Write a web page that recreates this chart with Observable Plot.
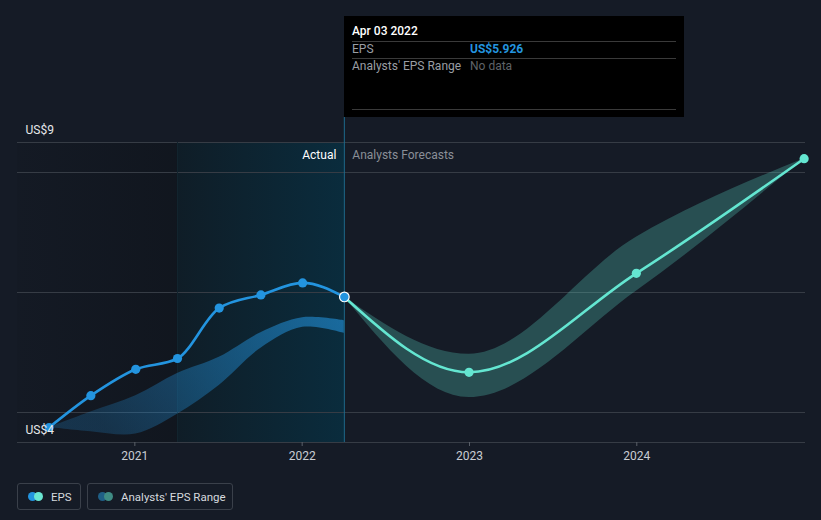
<!DOCTYPE html>
<html><head><meta charset="utf-8">
<script src="https://cdn.jsdelivr.net/npm/d3@7"></script>
<script src="https://cdn.jsdelivr.net/npm/@observablehq/plot@0.6"></script>
<style>
html,body{margin:0;padding:0;}
body{background:#151b26;font-family:Roboto,"Noto Sans",sans-serif;width:821px;height:520px;overflow:hidden;position:relative;}
#chart{position:absolute;left:0;top:0;}
#tip{position:absolute;left:344px;top:16px;width:340px;height:101px;background:#000;}
#tip .t{position:absolute;font-size:12px;line-height:14px;white-space:nowrap;}
#tip .sep{position:absolute;left:8px;width:324px;height:1px;background:#3a3a3a;}
#legend{position:absolute;left:17px;top:483px;display:flex;gap:6px;}
.lg{height:25px;border:1px solid #3a404a;border-radius:3px;display:flex;align-items:center;font-size:11.5px;color:#d6d9de;box-sizing:content-box;white-space:nowrap;}
.dots{position:relative;width:15px;height:9px;margin-left:10px;margin-right:8px;flex:none;}
.dots span{position:absolute;top:0;width:9px;height:9px;border-radius:50%;}
</style></head>
<body>
<div id="chart"></div>
<div id="tip">
  <div class="t" style="left:8px;top:8px;color:#fff;font-weight:500;">Apr 03 2022</div>
  <div class="sep" style="top:25px"></div>
  <div class="t" style="left:8px;top:26px;color:#9a9ea4;">EPS</div>
  <div class="t" style="left:126px;top:26px;color:#2394df;font-weight:700;">US$5.926</div>
  <div class="sep" style="top:42px"></div>
  <div class="t" style="left:8px;top:43px;color:#9a9ea4;">Analysts' EPS Range</div>
  <div class="t" style="left:126px;top:43px;color:#5f6368;">No data</div>
  <div class="sep" style="top:93px"></div>
</div>
<div id="legend">
  <div class="lg" style="width:62px"><div class="dots"><span style="left:0;background:#2394df"></span><span style="left:6px;background:#6ae6d2"></span></div>EPS</div>
  <div class="lg" style="width:144px"><div class="dots"><span style="left:0;background:#1f5f86"></span><span style="left:6px;background:#3f8c84"></span></div>Analysts' EPS Range</div>
</div>
<script>
// ---- data ----
const actualDates = ["2020-06-28","2020-09-27","2021-01-03","2021-04-04","2021-07-04","2021-10-03","2022-01-02","2022-04-03"];
const actualEPS   = [3.75, 4.28, 4.72, 4.90, 5.74, 5.96, 6.16, 5.926];
const actualLow   = [3.75, 3.68, 3.64, 3.97, 4.45, 5.07, 5.42, 5.32];
const actualHigh  = [3.75, 4.01, 4.28, 4.65, 4.92, 5.33, 5.58, 5.53];

const forecastDates = ["2022-04-03","2022-12-31","2023-12-31","2024-12-31"];
const forecastEPS   = [5.926, 4.67, 6.32, 8.23];
const forecastLow   = [5.926, 4.25, 6.02, 8.23];
const forecastHigh  = [5.926, 4.97, 6.92, 8.23];

const xDomain = ["2020-04-20","2025-01-03"];
const yDomain = [3.5, 8.5];
const gridValues = [3.5, 4, 6, 8, 8.5];
const xTicks = ["2021-01-01","2022-01-01","2023-01-01","2024-01-01"];
const yLabels = [{label:"US$9", value:8.7},{label:"US$4", value:3.7}];
const highlightStart = "2021-04-04";
const dividerDate = "2022-04-03";

// ---- build ----
const parse = d3.utcParse("%Y-%m-%d");
const actual = actualDates.map((d,i)=>({date:parse(d), eps:actualEPS[i], low:actualLow[i], high:actualHigh[i]}));
const forecast = forecastDates.map((d,i)=>({date:parse(d), eps:forecastEPS[i], low:forecastLow[i], high:forecastHigh[i]}));
const divider = parse(dividerDate);
const hl = parse(highlightStart);
const x0 = parse(xDomain[0]), x1 = parse(xDomain[1]);

const plot = Plot.plot({
  width: 821, height: 470,
  marginTop: 142, marginBottom: 28, marginLeft: 17, marginRight: 16,
  style: {background: "transparent", color: "#c9cdd3", fontFamily: "Roboto, sans-serif", fontSize: "12px"},
  x: {type: "utc", domain: [x0, x1]},
  y: {domain: yDomain, axis: null},
  marks: [
    Plot.rect([{a:x0, b:hl}], {x1:"a", x2:"b", y1:yDomain[0], y2:yDomain[1], fill:"url(#leftShade)"}),
    Plot.rect([{a:hl, b:divider}], {x1:"a", x2:"b", y1:yDomain[0], y2:yDomain[1], fill:"url(#hlShade)"}),
    Plot.ruleY(gridValues, {stroke:"#363c45", strokeWidth:1}),
    Plot.ruleX([hl], {stroke:"#13262f", strokeWidth:1}),
    Plot.areaY(actual, {x:"date", y1:"low", y2:"high", curve:"catmull-rom", fill:"url(#actBand)"}),
    Plot.areaY(forecast, {x:"date", y1:"low", y2:"high", curve:"monotone-x", fill:"#5fe3cf", fillOpacity:0.26}),
    Plot.ruleX([divider], {stroke:"#1d6a8c", strokeWidth:1, insetTop:-25}),
    Plot.line(actual, {x:"date", y:"eps", stroke:"#2394df", strokeWidth:2.6, curve:"monotone-x"}),
    Plot.line(forecast, {x:"date", y:"eps", stroke:"#64e6d1", strokeWidth:2.6, curve:"monotone-x"}),
    Plot.dot(actual.slice(0,-1), {x:"date", y:"eps", r:4.6, fill:"#2394df"}),
    Plot.dot(forecast.slice(1), {x:"date", y:"eps", r:4.6, fill:"#64e6d1"}),
    Plot.dot(actual.slice(-1), {x:"date", y:"eps", r:4.8, fill:"#2394df", stroke:"#ffffff", strokeWidth:1.2}),
    Plot.axisX(xTicks.map(parse), {tickFormat:d3.utcFormat("%Y"), tickSize:4, stroke:"#5a6069", label:null, fontSize:12}),
    Plot.text(yLabels, {y:"value", text:"label", frameAnchor:"left", dx:8, textAnchor:"start", fill:"#e6e8eb", fontSize:12}),
    Plot.text(["Actual"], {x:divider, frameAnchor:"top", dy:8, dx:-8, textAnchor:"end", fill:"#ffffff", fontSize:12}),
    Plot.text(["Analysts Forecasts"], {x:divider, frameAnchor:"top", dy:8, dx:8, textAnchor:"start", fill:"#8a8f97", fontSize:12})
  ]
});

const svg = d3.select(plot);
const defs = svg.insert("defs", ":first-child");
const g1 = defs.append("linearGradient").attr("id","leftShade").attr("x1","0").attr("x2","1").attr("y1","0").attr("y2","0");
g1.append("stop").attr("offset","0").attr("stop-color","#0e131a").attr("stop-opacity",0.15);
g1.append("stop").attr("offset","1").attr("stop-color","#0e131a").attr("stop-opacity",0.6);
const g2 = defs.append("linearGradient").attr("id","hlShade").attr("x1","0").attr("x2","1").attr("y1","0").attr("y2","0");
g2.append("stop").attr("offset","0").attr("stop-color","#0f1d27");
g2.append("stop").attr("offset","1").attr("stop-color","#0a2c3d");
const g3 = defs.append("linearGradient").attr("id","actBand").attr("x1","0").attr("x2","1").attr("y1","0.3").attr("y2","0");
g3.append("stop").attr("offset","0").attr("stop-color","#2394df").attr("stop-opacity",0.22);
g3.append("stop").attr("offset","1").attr("stop-color","#2394df").attr("stop-opacity",0.6);

document.getElementById("chart").appendChild(plot);
</script>
</body></html>
